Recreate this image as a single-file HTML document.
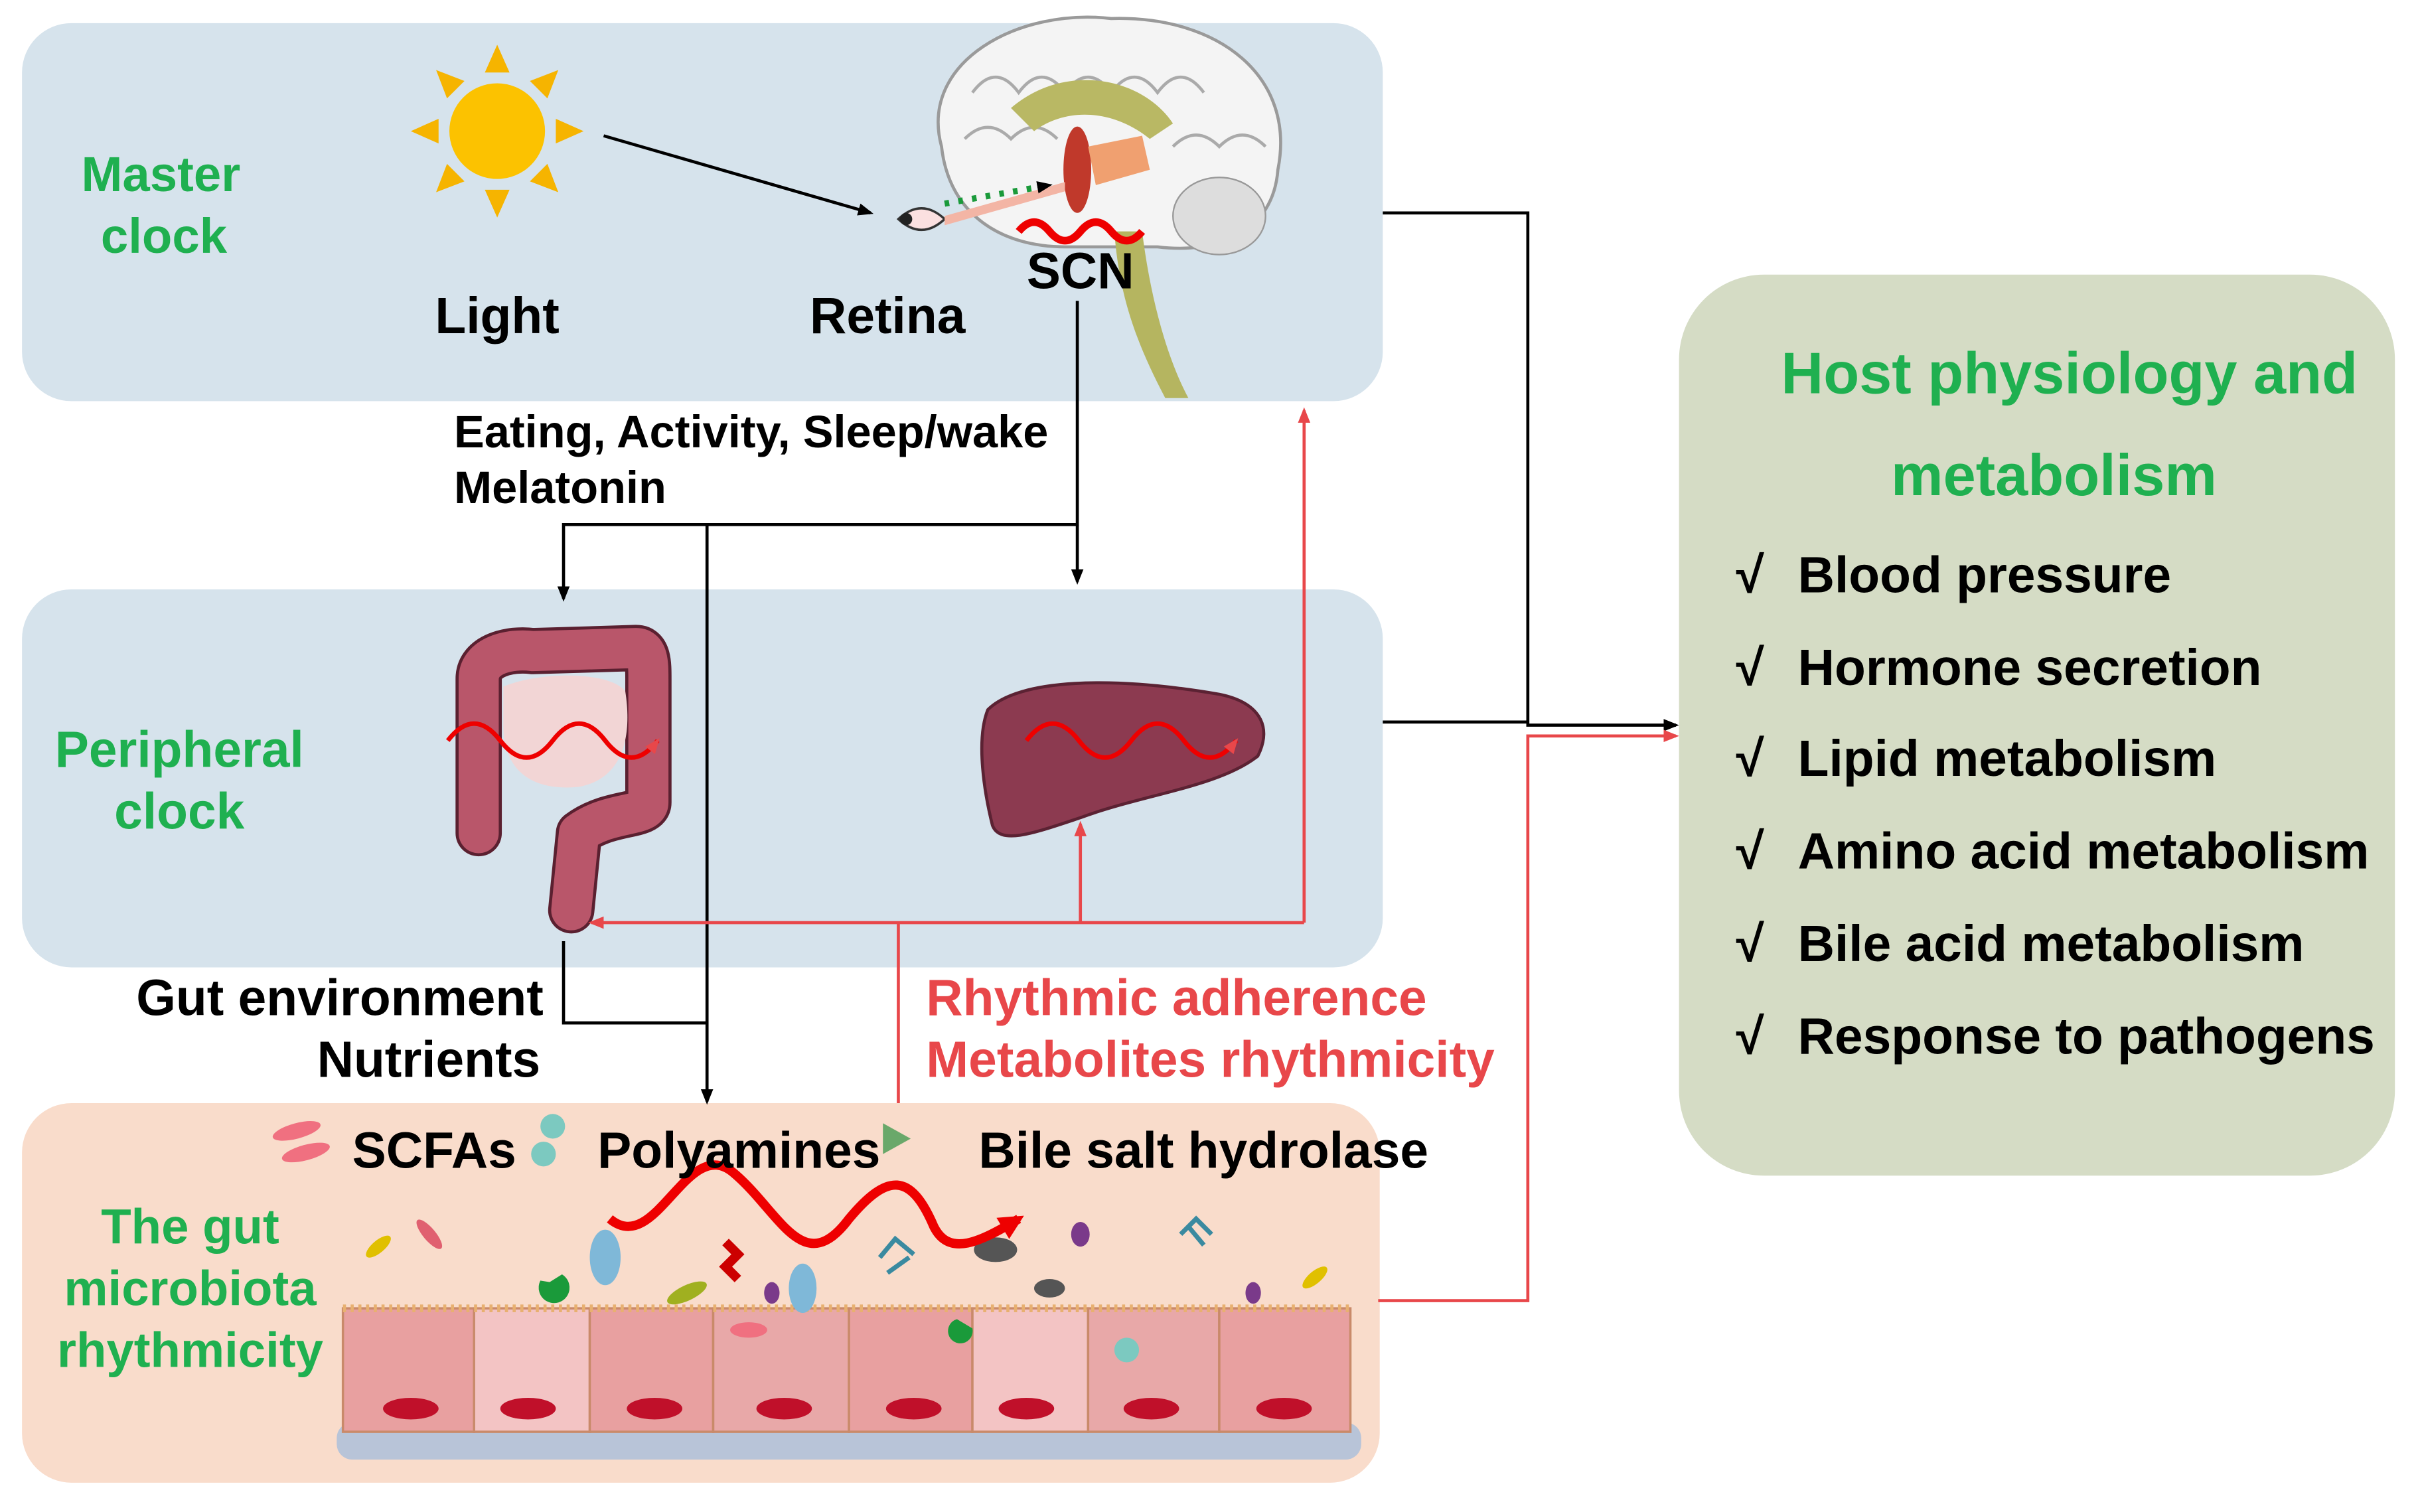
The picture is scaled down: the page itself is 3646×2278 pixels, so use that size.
<!DOCTYPE html>
<html><head><meta charset="utf-8"><style>
html,body{margin:0;padding:0;background:#fff;}
svg{display:block;}
text{font-family:"Liberation Sans",Arial,sans-serif;font-weight:bold;}
</style></head><body>
<svg width="3646" height="2278" viewBox="0 0 1568 980" xmlns="http://www.w3.org/2000/svg">
<defs>
<marker id="ab" markerWidth="10" markerHeight="10" refX="8" refY="5" orient="auto" markerUnits="userSpaceOnUse"><path d="M0,1 L10,5 L0,9 z" fill="#000"/></marker>
<marker id="ar" markerWidth="10" markerHeight="10" refX="8" refY="5" orient="auto" markerUnits="userSpaceOnUse"><path d="M0,1 L10,5 L0,9 z" fill="#e8474a"/></marker>
<marker id="arb" markerWidth="16" markerHeight="16" refX="12" refY="8" orient="auto" markerUnits="userSpaceOnUse"><path d="M0,0 L16,8 L0,16 z" fill="#e00"/></marker>
</defs>
<rect x="14" y="15" width="882" height="245" rx="32" fill="#d6e3ec"/>
<rect x="14" y="382" width="882" height="245" rx="32" fill="#d6e3ec"/>
<rect x="14" y="715" width="880" height="246" rx="32" fill="#f9dccb"/>
<rect x="1088" y="178" width="464" height="584" rx="55" fill="#d5dcc5"/>

<g transform="translate(322,85)" fill="#f6b400">
<g id="ray"><path d="M-8,-38 L0,-56 L8,-38 z"/></g>
<use href="#ray" transform="rotate(45)"/><use href="#ray" transform="rotate(90)"/><use href="#ray" transform="rotate(135)"/>
<use href="#ray" transform="rotate(180)"/><use href="#ray" transform="rotate(225)"/><use href="#ray" transform="rotate(270)"/><use href="#ray" transform="rotate(315)"/>
<circle r="31" fill="#fcc200"/>
</g>
<path d="M610,95 C595,40 660,5 720,12 C790,10 840,50 828,110 C825,150 790,165 750,160 L690,160 C650,160 615,140 610,95 z" fill="#f4f4f4" stroke="#9a9a9a" stroke-width="2"/>
<path d="M630,60 q15,-20 30,0 q15,-20 30,0 q15,-20 30,0 q15,-20 30,0 q15,-20 30,0 M625,90 q15,-15 30,0 q15,-15 30,0 M760,95 q15,-15 30,0 q15,-15 30,0" fill="none" stroke="#aaa" stroke-width="2"/>
<ellipse cx="790" cy="140" rx="30" ry="25" fill="#ddd" stroke="#999"/>
<path d="M655,70 C690,40 740,50 760,80 L745,90 C720,70 690,70 670,85 z" fill="#b9b864"/>
<path d="M740,150 C745,190 755,230 770,258 L755,258 C735,220 725,190 722,150 z" fill="#b5b560"/>
<ellipse cx="698" cy="110" rx="9" ry="28" fill="#c0392b"/>
<path d="M705,95 L740,88 L745,110 L710,120 z" fill="#f0a070"/>
<path d="M582,142 q15,-14 30,0 q-15,14 -30,0 z" fill="#fbe0e0" stroke="#333" stroke-width="1.5"/>
<circle cx="587" cy="142" r="4" fill="#222"/>
<path d="M612,140 L690,118 L690,124 L612,146 z" fill="#f3b5a5"/>
<path d="M612,132 L680,120" stroke="#1a9a3a" stroke-width="4" stroke-dasharray="3,6" fill="none" marker-end="url(#ab)"/>
<path d="M660,150 q10,-12 20,0 q10,12 20,0 q10,-12 20,0 q10,12 20,0" fill="none" stroke="#e00" stroke-width="5"/>
<!-- colon -->
<path d="M310,540 L310,440 C310,425 330,420 345,422 L412,420 C420,420 420,430 420,440 L420,520 C420,530 395,525 375,540 L370,590" fill="none" stroke="#5a2030" stroke-width="30" stroke-linejoin="round" stroke-linecap="round"/>
<path d="M310,540 L310,440 C310,425 330,420 345,422 L412,420 C420,420 420,430 420,440 L420,520 C420,530 395,525 375,540 L370,590" fill="none" stroke="#b9566a" stroke-width="26" stroke-linejoin="round" stroke-linecap="round"/>
<path d="M326,445 C350,435 395,435 405,448 C410,480 402,505 375,510 C345,513 326,500 326,470 z" fill="#f2d5d5"/>
<path d="M290,480 q17,-22 34,0 q17,22 34,0 q17,-22 34,0 q17,22 34,0" fill="none" stroke="#e00" stroke-width="3" marker-end="url(#ar)"/>
<path d="M640,460 C660,440 720,438 790,450 C815,455 825,470 815,490 C790,510 740,515 700,530 C670,540 648,548 643,535 C638,515 632,480 640,460 z" fill="#8c3a50" stroke="#5b2233" stroke-width="2"/>
<path d="M665,480 q17,-22 34,0 q17,22 34,0 q17,-22 34,0 q17,22 34,0" fill="none" stroke="#e00" stroke-width="3" marker-end="url(#ar)"/>
<rect x="218" y="922" width="664" height="24" rx="10" fill="#b8c4d8"/>
<g stroke="#c98a6a" stroke-width="1.5">
<rect x="222" y="848" width="85" height="80" fill="#e8a0a0"/><rect x="307" y="848" width="75" height="80" fill="#f3c4c4"/>
<rect x="382" y="848" width="80" height="80" fill="#e8a0a0"/><rect x="462" y="848" width="88" height="80" fill="#e8a8a8"/>
<rect x="550" y="848" width="80" height="80" fill="#e8a0a0"/><rect x="630" y="848" width="75" height="80" fill="#f3c4c4"/>
<rect x="705" y="848" width="85" height="80" fill="#e8a8a8"/><rect x="790" y="848" width="85" height="80" fill="#e8a0a0"/>
</g>
<path d="M222,848 L875,848" stroke="#e8b070" stroke-width="5" stroke-dasharray="2,3"/>
<g fill="#c0102a">
<ellipse cx="266" cy="913" rx="18" ry="7"/><ellipse cx="342" cy="913" rx="18" ry="7"/><ellipse cx="424" cy="913" rx="18" ry="7"/><ellipse cx="508" cy="913" rx="18" ry="7"/><ellipse cx="592" cy="913" rx="18" ry="7"/><ellipse cx="665" cy="913" rx="18" ry="7"/><ellipse cx="746" cy="913" rx="18" ry="7"/><ellipse cx="832" cy="913" rx="18" ry="7"/>
</g>
<g>
<ellipse cx="192" cy="733" rx="16" ry="5" fill="#f07080" transform="rotate(-15 192 733)"/><ellipse cx="198" cy="747" rx="16" ry="5" fill="#f07080" transform="rotate(-15 198 747)"/>
<circle cx="358" cy="730" r="8" fill="#7cc9c0"/><circle cx="352" cy="748" r="8" fill="#7cc9c0"/>
<path d="M572,728 L590,738 L572,748 z" fill="#6aa86a"/>
<ellipse cx="245" cy="808" rx="10" ry="4" fill="#e0c000" transform="rotate(-40 245 808)"/>
<ellipse cx="278" cy="800" rx="12" ry="4" fill="#e06070" transform="rotate(50 278 800)"/>
<ellipse cx="392" cy="815" rx="10" ry="18" fill="#7fb8d8"/><ellipse cx="520" cy="835" rx="9" ry="16" fill="#7fb8d8"/>
<path d="M350,830 a10,10 0 1 0 14,-4 l-8,5 z" fill="#1a9a3a"/>
<ellipse cx="445" cy="838" rx="14" ry="5" fill="#a0b020" transform="rotate(-25 445 838)"/>
<ellipse cx="485" cy="862" rx="12" ry="5" fill="#f07080"/>
<ellipse cx="500" cy="838" rx="5" ry="7" fill="#7a3a8a"/><ellipse cx="700" cy="800" rx="6" ry="8" fill="#7a3a8a"/><ellipse cx="812" cy="838" rx="5" ry="7" fill="#7a3a8a"/>
<ellipse cx="645" cy="810" rx="14" ry="8" fill="#555"/><ellipse cx="680" cy="835" rx="10" ry="6" fill="#555"/>
<circle cx="730" cy="875" r="8" fill="#7cc9c0"/>
<ellipse cx="852" cy="828" rx="10" ry="4" fill="#e0c000" transform="rotate(-40 852 828)"/>
<path d="M620,855 a8,8 0 1 0 10,6 z" fill="#1a9a3a"/>
<path d="M765,800 l10,-10 l10,10 M770,795 l10,12" stroke="#3a8aa0" stroke-width="3" fill="none"/>
<path d="M570,815 l10,-12 l12,10 M575,825 l14,-10" stroke="#3a8aa0" stroke-width="3" fill="none"/>
<path d="M470,805 l8,8 l-8,8 l8,8" stroke="#c00" stroke-width="6" fill="none"/>
</g>
<path d="M395,790 C425,815 445,735 475,760 C505,785 520,830 550,790 C575,760 590,760 605,795 C615,815 635,805 660,790" fill="none" stroke="#e00" stroke-width="6" marker-end="url(#arb)"/>

<g stroke="#000" stroke-width="2" fill="none">
<line x1="391" y1="88" x2="564" y2="138" marker-end="url(#ab)"/>
<polyline points="896,138 990,138 990,470 1086,470" marker-end="url(#ab)"/>
<line x1="896" y1="468" x2="990" y2="468"/>
<polyline points="698,195 698,340 365,340 365,388" marker-end="url(#ab)"/>
<line x1="698" y1="340" x2="698" y2="377" marker-end="url(#ab)"/>
<line x1="458" y1="340" x2="458" y2="714" marker-end="url(#ab)"/>
<polyline points="365,610 365,663 458,663"/>
</g>
<g stroke="#e8474a" stroke-width="2" fill="none">
<line x1="582" y1="715" x2="582" y2="598"/>
<polyline points="845,598 383,598" marker-end="url(#ar)"/>
<line x1="845" y1="598" x2="845" y2="266" marker-end="url(#ar)"/>
<line x1="700" y1="598" x2="700" y2="534" marker-end="url(#ar)"/>
<polyline points="893,843 990,843 990,477 1086,477" marker-end="url(#ar)"/>
</g>

<g fill="#1fb050" font-size="32" text-anchor="middle">
<text x="104" y="124">Master</text><text x="106" y="164">clock</text>
<text x="116" y="497" font-size="33">Peripheral</text><text x="116" y="537" font-size="33">clock</text>
<text x="123" y="806">The gut</text><text x="123" y="846">microbiota</text><text x="123" y="886">rhythmicity</text>
<text x="1341" y="255" font-size="38">Host physiology and</text><text x="1331" y="321" font-size="38">metabolism</text>
</g>
<g fill="#000" font-size="33">
<text x="322" y="216" text-anchor="middle">Light</text>
<text x="575" y="216" text-anchor="middle">Retina</text>
<text x="700" y="187" text-anchor="middle">SCN</text>
<text x="294" y="290" font-size="29.5">Eating, Activity, Sleep/wake</text>
<text x="294" y="326" font-size="29.5">Melatonin</text>
<text x="352" y="658" text-anchor="end">Gut environment</text>
<text x="350" y="698" text-anchor="end">Nutrients</text>
<text x="228" y="757">SCFAs</text><text x="387" y="757">Polyamines</text><text x="634" y="757">Bile salt hydrolase</text>
</g>
<g fill="#e8474a" font-size="33">
<text x="600" y="658">Rhythmic adherence</text>
<text x="600" y="698">Metabolites rhythmicity</text>
</g>
<g font-size="33" fill="#000">
<text x="1125" y="384" font-weight="normal">√</text><text x="1165" y="384">Blood pressure</text>
<text x="1125" y="444" font-weight="normal">√</text><text x="1165" y="444">Hormone secretion</text>
<text x="1125" y="503" font-weight="normal">√</text><text x="1165" y="503">Lipid metabolism</text>
<text x="1125" y="563" font-weight="normal">√</text><text x="1165" y="563">Amino acid metabolism</text>
<text x="1125" y="623" font-weight="normal">√</text><text x="1165" y="623">Bile acid metabolism</text>
<text x="1125" y="683" font-weight="normal">√</text><text x="1165" y="683">Response to pathogens</text>
</g>
</svg>
</body></html>
